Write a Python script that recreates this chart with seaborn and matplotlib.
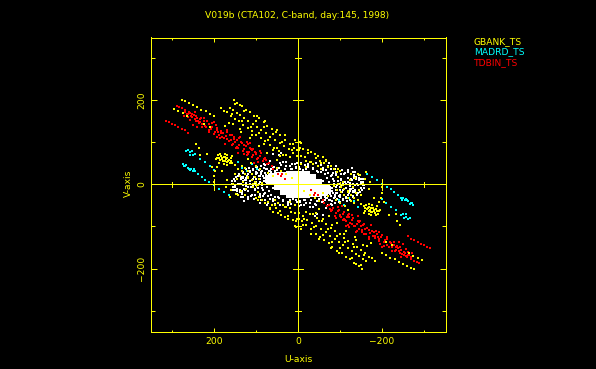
import numpy as np
import pandas as pd
import matplotlib
matplotlib.use("Agg")
import matplotlib.pyplot as plt
import seaborn as sns

TITLE = "V019b (CTA102, C-band, day:145, 1998)"
STATIONS = ["GBANK_TS", "MADRD_TS", "TDBIN_TS"]
TICKS = [-200, 0, 200]
MINOR = [-300, -100, 100, 300]

# Half of the uv coverage, the conjugate points (-u, -v) complete it.
gbank_u = [152,146,139,134,124,114,105,94,82,73,63,52,43,31,19,9,3,
           163,155,146,137,128,119,108,98,88,77,66,55,44,33,22,12,3,
           184,177,170,160,151,141,130,120,110,99,89,78,67,56,45,35,
           98,78,51,31,11,7,154,174,138,110,82,59,43,19,
           277,268,259,250,240,230,220,209,201,
           295,285,275,265,225,209,
           189,184,180,176,172,168,164,186,178,170,162,182,174,166,160,
           233,205,197,193,181,170,138,150,106,120,130,145,155,201,201,
           174,158,150,142,134,126,118,110,103,95,
           134,126,118,110,102,94,86,107,95,126,142,162,95,67,55,43,31,23,3,7,
           -4,-4,-12,-24,-32,-40,-48,-59,-67,-79,-99,-8,-20,-16,-28,-36,-48,-8,-20,-55,
           149,129,101,80,60,38,15,
           158,133,113,93,72,50,28,
           165,135,115,94,73,50,
           190,185,175,168,160,188,176,168,192,158,
           120,112,100,90,72,60,50,40,28,14,125,135,148,160,172,
           244,236,216,196,-44,-52,-62,-72,-86,-92]
gbank_v = [200,195,190,186,178,172,164,158,148,140,132,125,117,106,97,87,81,
           182,177,170,165,158,152,143,136,130,122,114,106,99,91,84,75,69,
           182,176,172,163,157,150,142,134,127,118,111,104,95,87,79,71,
           163,152,129,117,97,105,144,140,132,117,97,81,69,65,
           202,198,193,189,184,178,174,168,164,
           180,175,170,164,144,136,
           64,67,62,66,60,64,58,58,55,53,50,60,57,55,56,
           71,41,33,41,33,10,21,25,-6,15,5,12,0,6,21,
           65,52,46,38,31,25,19,11,5,-2,
           45,39,33,26,19,12,4,2,-18,-26,-26,-30,-38,-58,-50,-62,-54,-74,-82,-98,
           101,88,85,81,77,73,67,65,57,45,32,69,57,65,53,49,45,49,41,37,
           192,176,152,136,120,102,83,
           168,150,136,122,105,88,70,
           146,126,110,92,76,58,
           70,72,72,70,62,52,48,46,64,68,
           60,52,44,36,28,20,40,32,24,16,-10,-16,-22,-14,-6,
           96,88,72,60,62,56,50,42,36,30]

madrd_u = [263,258,253,250,245,233,221,209,201,142,134,122,
           274,269,263,257,250,245,237,229,221,213,201,189,176,164,
           272,266,260,254,248,266,256,110,98]
madrd_v = [81,77,79,71,73,61,53,43,35,53,40,33,
           48,43,40,35,32,33,25,18,10,6,-2,-10,-17,-24,
           45,46,37,38,36,80,70,48,36]

tdbin_u = [289,283,276,268,260,252,243,233,224,213,204,192,183,172,160,150,140,128,117,106,95,84,73,59,
           269,262,255,246,238,228,218,208,198,187,176,165,154,143,131,120,109,98,
           314,308,301,293,285,276,268,261,
           265,258,262,252,248,244,256,240,234,224,216,205,196,210,190,178,170,162,152,158,146,135,125,115,122,110,100,90,80,105,
           241,213,193,174,146,122,162,138,122,106,63,48,40,39,30,
           272,250,236,228,222,212,201,199,192,184,180,168,156,148,141,134,128,118,112,103,95,88,78,68,
           246,230,206,186,168,152,142,128,114,100,90,76]
tdbin_v = [188,184,181,177,172,168,163,156,150,143,137,130,122,115,107,100,93,85,78,70,63,55,48,37,
           172,167,162,157,151,145,138,131,125,118,110,103,96,88,80,73,66,61,
           151,148,144,141,138,133,130,123,
           168,170,160,160,165,150,154,158,148,158,150,146,142,136,125,122,130,118,112,95,105,100,92,88,70,82,75,68,60,52,
           136,125,113,97,89,77,117,113,101,85,45,26,20,25,12,
           163,142,146,136,140,130,148,120,134,128,112,108,118,86,110,98,72,96,84,78,54,74,62,52,
           172,158,134,110,126,108,74,94,98,72,80,58]

# Dense white baselines: rings and loose points, then the solid core.
short_u = [71,79,88,99,107,115,122,130,136,
           55,67,79,91,99,107,111,
           150,154,146,134,126,130,142,154,146,130,114,98,82,67,
           110,104,97,90,84,76,70,100,115,120,124,
           150,138,118,103,91,79,71,55,43,23,3,36,44,28,40,87,75,16,
           150,147,140,130,118,108,102,103,110,120,131,142,150,
           125,135,140,128,115,118,133,
           60,70,80,90,75,85,90,95,65,55,45,35,20,5,
           45,30,15,5,5,60,75,85,59,45,
           157,156,153,148,142,136,130,126,124,125,128,133,139,146,151,155,
           94,88,82,76,70,64,58,100,94,88,82,76,70,64,106,100,
           108,102,96,90,84,78,72,66,60,92,86,80,74,68,62,
           12,24,36,48,60,72,84,-8,-16,-24,30,18,6,50,40,28,14,2,
           96,104,112,120,128,136,100,108,116,124,132,90,95,103]
short_v = [49,47,44,41,37,29,21,9,1,
           33,31,28,21,13,2,-6,
           -2,-14,-22,-22,-14,-2,2,2,-10,18,33,41,49,57,
           25,18,27,12,20,7,2,5,8,-5,10,
           -6,-14,-6,-10,-22,-38,-42,-46,-50,-46,-42,54,50,54,74,-38,-50,38,
           8,18,26,28,24,14,2,-12,-24,-30,-29,-24,-14,
           15,12,0,-10,0,-15,-18,
           -8,-16,-22,-30,-5,-8,5,-18,-26,-30,-32,-36,-38,-36,
           40,38,38,40,42,42,38,32,73,70,
           2,8,14,18,20,19,15,10,3,-4,-10,-15,-17,-16,-12,-6,
           34,30,40,36,32,38,42,24,20,26,16,22,26,30,12,-2,
           -4,-14,-8,-24,-12,-20,-28,-34,-40,2,-2,8,2,14,20,
           -34,-42,-40,-30,-34,-44,-28,50,46,48,38,44,48,34,46,44,48,52,
           -38,-34,-28,-34,-40,-30,30,34,40,36,30,-44,-2,-26]
core_u = [6,6,6,6,20,20,20,20,34,34,34,34,47,47,47,60,60,70]
core_v = [22,8,-8,-22,22,8,-8,-22,20,8,-4,-15,20,8,-3,18,8,12]

YELLOW, CYAN, RED, WHITE = "#ffff00", "#00ffff", "#ff0000", "#ffffff"


def conjugate(u, v, name):
    return pd.DataFrame({"u": np.r_[u, -np.array(u)], "v": np.r_[v, -np.array(v)], "set": name})


plt.rcParams["lines.antialiased"] = False
plt.rcParams["font.family"] = ["DejaVu Sans"]
W, H = 596, 369
fig = plt.figure(figsize=(W / 100, H / 100), dpi=100, facecolor="black")
ax = fig.add_axes([150.5 / W, 1 - 331.5 / H, 295 / W, 294 / H], facecolor="black")

points = pd.concat([conjugate(short_u, short_v, "short"),
                    conjugate(tdbin_u, tdbin_v, STATIONS[2]),
                    conjugate(madrd_u, madrd_v, STATIONS[1]),
                    conjugate(gbank_u, gbank_v, STATIONS[0])])
palette = {"short": WHITE, STATIONS[0]: YELLOW, STATIONS[1]: CYAN, STATIONS[2]: RED}
core = conjugate(core_u, core_v, "core")
sns.scatterplot(data=core, x="u", y="v", color=WHITE, marker="s", s=26, linewidth=0,
                antialiased=False, legend=False, ax=ax, zorder=1)
for name in ["short", STATIONS[2], STATIONS[1], STATIONS[0]]:
    sns.scatterplot(data=points[points["set"] == name], x="u", y="v", color=palette[name],
                    marker="s", s=1.5, linewidth=0, antialiased=False, legend=False,
                    ax=ax, zorder=2)

ax.set_xlim(351.2, -351.2)
ax.set_ylim(-350, 350)
ax.set_xlabel("")
ax.set_ylabel("")
ax.set_xticks(TICKS)
ax.set_yticks(TICKS)
ax.set_xticks(MINOR, minor=True)
ax.set_yticks(MINOR, minor=True)
lw = 0.72
for s in ax.spines.values():
    s.set_color(YELLOW)
    s.set_linewidth(lw)
fs = 6.6
ax.tick_params(axis="x", which="major", direction="in", length=3, width=lw, color=YELLOW,
               top=True, labelcolor=YELLOW, labelsize=fs, pad=4)
ax.tick_params(axis="x", which="minor", direction="in", length=1.6, width=lw, color=YELLOW, top=True)
ax.tick_params(axis="y", which="major", direction="in", length=4, width=lw, color=YELLOW,
               right=True, labelcolor=YELLOW, labelsize=fs, pad=3)
ax.tick_params(axis="y", which="minor", direction="in", length=2.6, width=lw, color=YELLOW, right=True)
for lab in ax.get_yticklabels():
    lab.set_rotation(90)
    lab.set_va("center")

# Zero lines with their own cross ticks
ax.axhline(0, color=YELLOW, lw=lw, zorder=5)
ax.axvline(0, color=YELLOW, lw=lw, zorder=5)
for t in MINOR + TICKS:
    h = 12 if t in TICKS else 7
    ax.plot([t, t], [-h, h], color=YELLOW, lw=lw, zorder=5)
    ax.plot([-h, h], [t, t], color=YELLOW, lw=lw, zorder=5)

def px_text(x, y, s, color=YELLOW, **kw):
    fig.text(x / W, 1 - y / H, s, color=color, fontsize=fs, va="center", **kw)

px_text(297.5, 16, TITLE, ha="center")
px_text(298, 359, "U-axis", ha="center")
px_text(128, 183, "V-axis", ha="center", rotation=90)
for name, col, y in zip(STATIONS, [YELLOW, CYAN, RED], [41.5, 52, 62.5]):
    px_text(474, y, name, color=col, ha="left")

fig.savefig("out.png", dpi=100, facecolor="black")
